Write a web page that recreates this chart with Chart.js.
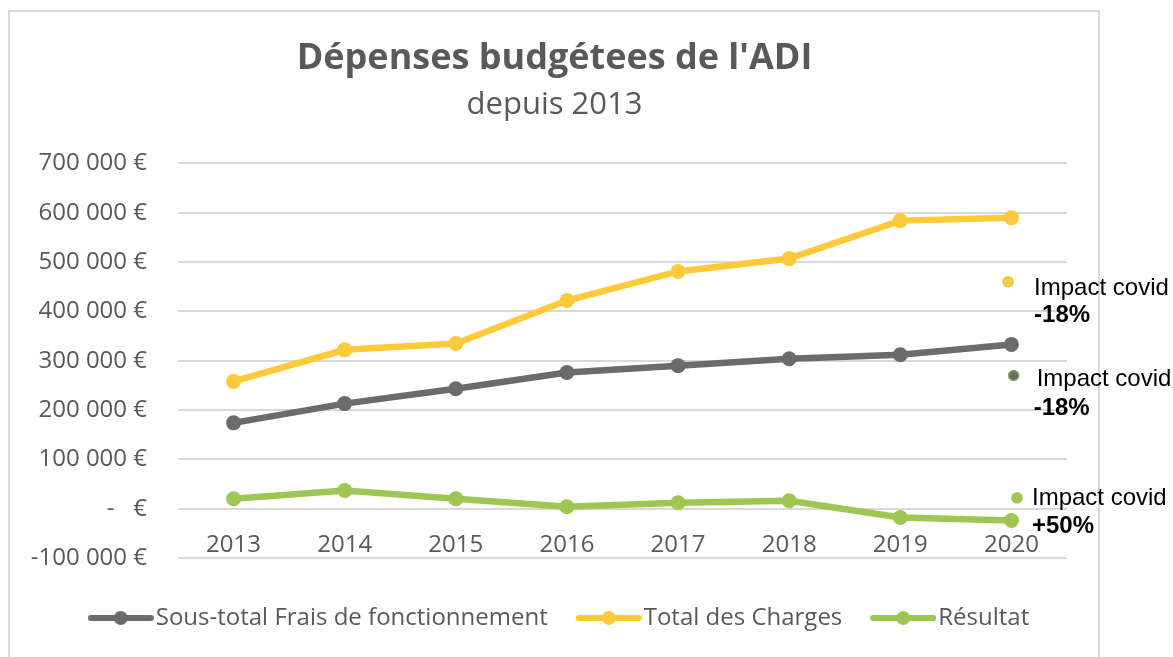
<!DOCTYPE html>
<html lang="fr">
<head>
<meta charset="utf-8">
<title>Dépenses budgétees de l'ADI</title>
<script src="https://cdn.jsdelivr.net/npm/chart.js@4.4.1/dist/chart.umd.min.js"></script>
<style>
  html, body { margin: 0; padding: 0; background: #fff; }
  body { width: 1173px; height: 657px; position: relative; overflow: hidden; }
  .cadre { position: absolute; left: 8px; top: 10px; width: 1092px; height: 700px; border: 2px solid #d9d9d9; box-sizing: border-box; }
  #wrap { position: absolute; left: 0; top: 0; width: 1173px; height: 657px; }
</style>
</head>
<body>
<div class="cadre"></div>
<div id="wrap"><canvas id="chart"></canvas></div>
<script>
const annees = ['2013', '2014', '2015', '2016', '2017', '2018', '2019', '2020'];
const fraisFonctionnement = [174000, 213000, 243000, 276000, 290000, 304000, 312000, 333000];
const totalCharges = [258000, 322000, 335000, 422000, 481000, 507000, 584000, 590000];
const resultat = [20000, 37000, 20000, 4000, 12000, 16000, -18000, -24000];

const yTicks = [-100000, 0, 100000, 200000, 300000, 400000, 500000, 600000, 700000];
const yTickLabels = ['-100 000 €', '-   €', '100 000 €', '200 000 €', '300 000 €', '400 000 €', '500 000 €', '600 000 €', '700 000 €'];

// points "Impact covid" placés juste à droite de 2020
const covidX = [6.97, 7.02, 7.05];
const covidY = [460000, 270000, 22000];
const covidLigne1 = ['Impact covid', 'Impact covid', 'Impact covid'];
const covidLigne2 = ['-18%', '-18%', '+50%'];

const GRIS = '#6b6b6b', JAUNE = '#ffca3a', VERT = '#9dc653';
const TEXTE = '#595959';

const pts = (vals, xs) => vals.map((v, i) => ({ x: xs ? xs[i] : i, y: v }));

function iconeLegende(couleur) {
    const c = document.createElement('canvas');
    c.width = 66; c.height = 16;
    const g = c.getContext('2d');
    g.strokeStyle = couleur; g.lineWidth = 6; g.lineCap = 'round';
    g.beginPath(); g.moveTo(3, 8); g.lineTo(63, 8); g.stroke();
    g.fillStyle = couleur;
    g.beginPath(); g.arc(33, 8, 7, 0, Math.PI * 2); g.fill();
    return c;
}

// décalages des textes par rapport à chaque point covid
const covidDecalage = [{ dx: 26, dy1: 7, dy2: 34, dx2: 26 }, { dx: 23, dy1: 4, dy2: 33, dx2: 20 }, { dx: 15, dy1: 1, dy2: 29, dx2: 15 }];

const texteCovid = {
    id: 'texteCovid',
    afterLayout(chart) {
        // léger recentrage du titre et de la légende
        [chart.titleBlock, chart.legend].forEach(b => { if (b) { b.left += 6; b.right += 6; } });
        const st = chart.boxes.find(b => b.options && b.options.text === 'depuis 2013');
        if (st) { st.left += 6; st.right += 6; }
        if (chart.legend) { chart.legend.left += 9; chart.legend.right += 9; }
    },
    afterDatasetsDraw(chart) {
        const ctx = chart.ctx;
        const meta = chart.getDatasetMeta(3);
        ctx.save();
        ctx.fillStyle = '#000';
        ctx.textBaseline = 'middle';
        ctx.textAlign = 'left';
        meta.data.forEach((p, i) => {
            const d = covidDecalage[i];
            ctx.font = '24px "Liberation Sans", Arial, sans-serif';
            ctx.fillText(covidLigne1[i], p.x + d.dx, p.y + d.dy1);
            ctx.font = 'bold 24px "Liberation Sans", Arial, sans-serif';
            ctx.fillText(covidLigne2[i], p.x + d.dx2, p.y + d.dy2);
        });
        ctx.restore();
    }
};

const serie = (label, data, couleur) => ({
    label, data,
    borderColor: couleur, backgroundColor: couleur,
    borderWidth: 6.5, tension: 0,
    pointRadius: 7.5, pointHoverRadius: 7.5, pointBorderWidth: 0,
    pointBackgroundColor: couleur
});

new Chart(document.getElementById('chart'), {
    type: 'line',
    data: {
        datasets: [
            serie('Sous-total Frais de fonctionnement', pts(fraisFonctionnement), GRIS),
            serie('Total des Charges', pts(totalCharges), JAUNE),
            serie('Résultat', pts(resultat), VERT),
            {
                label: 'covid',
                data: pts(covidY, covidX),
                showLine: false,
                pointRadius: 5,
                pointBorderWidth: 1.5,
                pointBackgroundColor: ['#f7cf4a', GRIS, VERT],
                pointBorderColor: ['#e8c23c', '#7fa84a', VERT]
            }
        ]
    },
    options: {
        responsive: true,
        maintainAspectRatio: false,
        animation: false,
        layout: { padding: { top: 10, left: 30, right: 106, bottom: 17 } },
        scales: {
            x: {
                type: 'linear',
                position: { y: 0 },
                min: -0.5, max: 7.5,
                afterBuildTicks: s => { s.ticks = annees.map((_, i) => ({ value: i })); },
                ticks: {
                    callback: v => annees[v],
                    color: TEXTE,
                    font: { family: 'Open Sans', size: 24 },
                    padding: 22, maxRotation: 0, autoSkip: false
                },
                grid: { display: false, drawTicks: false },
                border: { display: false }
            },
            y: {
                min: -100000, max: 700000,
                afterBuildTicks: s => { s.ticks = yTicks.map(v => ({ value: v })); },
                afterFit: s => { s.width = 148; },
                ticks: {
                    callback: v => yTickLabels[yTicks.indexOf(v)],
                    color: TEXTE,
                    font: { family: 'Open Sans', size: 24 },
                    padding: 31
                },
                grid: { color: '#d9d9d9', lineWidth: 2, drawTicks: false },
                border: { display: false }
            }
        },
        plugins: {
            title: {
                display: true,
                text: "Dépenses budgétees de l'ADI",
                color: TEXTE,
                font: { family: 'Open Sans', size: 36, weight: 'bold' },
                padding: { top: 27, bottom: 0 }
            },
            subtitle: {
                display: true,
                text: 'depuis 2013',
                color: TEXTE,
                font: { family: 'Open Sans', size: 31 },
                padding: { top: 6, bottom: 40 }
            },
            legend: {
                position: 'bottom',
                title: { display: true, text: '', font: { size: 10, lineHeight: 1 }, padding: 0 },
                labels: {
                    usePointStyle: true,
                    pointStyleWidth: 46,
                    padding: 38,
                    color: TEXTE,
                    font: { family: 'Open Sans', size: 24 },
                    generateLabels: chart => chart.data.datasets.slice(0, 3).map((ds, i) => ({
                        text: ds.label,
                        pointStyle: iconeLegende(ds.borderColor),
                        fillStyle: ds.borderColor,
                        strokeStyle: ds.borderColor,
                        lineWidth: 0,
                        fontColor: TEXTE,
                        hidden: false,
                        datasetIndex: i
                    }))
                }
            },
            tooltip: { enabled: false }
        }
    },
    plugins: [texteCovid]
});
</script>
</body>
</html>
